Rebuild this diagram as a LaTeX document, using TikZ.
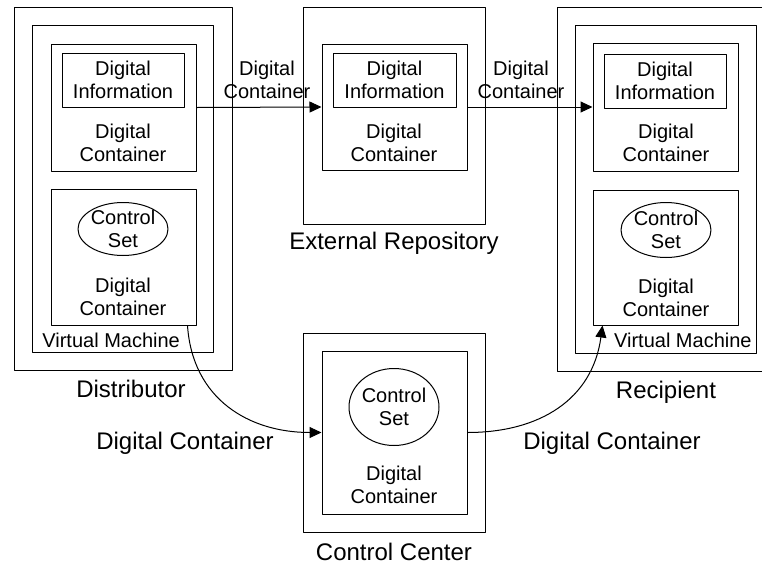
\documentclass[tikz,border=0pt]{standalone}
\usepackage{fontspec}
\setmainfont{Liberation Sans}
\usetikzlibrary{arrows.meta,fit,shapes.geometric}
\begin{document}
\begin{tikzpicture}[x=0.5pt,y=-0.5pt, line join=round, line cap=round,
		box/.style={draw, line width=0.5pt, inner sep=0pt},
		oval/.style={draw, ellipse, line width=0.5pt, inner sep=0pt, minimum width=45pt, minimum height=26.5pt},
		txt/.style={align=center, inner sep=0pt, font=\fontsize{10}{11.5}\selectfont},
		big/.style={inner sep=0pt, font=\fontsize{12}{14}\selectfont},
		link/.style={line width=0.5pt, -{Triangle[length=6pt,width=5.5pt]}}]
	\useasboundingbox (0,0) rectangle (762,563);
	\clip (0,0) rectangle (762,563);
	% Distributor
	\node[box, fit={(14,7) (232,370)}] (dist) {};
	\node[box, fit={(32,25) (213,352)}] (dvm) {};
	\node[box, fit={(51,44) (196,171)}] (dd1) {};
	\node[box, fit={(62,53) (184,107)}] (ddi) {};
	\node[box, fit={(51,189) (196,325)}] (dd2) {};
	\node[oval] (dcs) at (123,229) {};
	\node[txt] at (ddi) {Digital\\Information};
	\node[txt] at (123,143) {Digital\\Container};
	\node[txt] at (dcs) {Control\\Set};
	\node[txt] at (123,297) {Digital\\Container};
	\node[txt, anchor=west] at (42,340) {Virtual Machine};
	\node[big] at (131,389) {Distributor};
	% External Repository
	\node[box, fit={(303,7) (485,224)}] (ext) {};
	\node[box, fit={(322,44) (467,170)}] (ei) {};
	\node[box, fit={(333,53) (456,107)}] (edi) {};
	\node[txt] at (edi) {Digital\\Information};
	\node[txt] at (394,143) {Digital\\Container};
	\node[big] at (394,243) {External Repository};
	% Recipient
	\node[box, fit={(557,7) (775,371)}] (rec) {};
	\node[box, fit={(575,25) (756,353)}] (rvm) {};
	\node[box, fit={(593,43) (738,171)}] (rd1) {};
	\node[box, fit={(604,54) (726,108)}] (rdi) {};
	\node[box, fit={(593,190) (738,325)}] (rd2) {};
	\node[oval, minimum height=27.5pt] (rcs) at (666,230) {};
	\node[txt] at (rdi) {Digital\\Information};
	\node[txt] at (666,143) {Digital\\Container};
	\node[txt] at (rcs) {Control\\Set};
	\node[txt] at (666,298) {Digital\\Container};
	\node[txt, anchor=east] at (752,340) {Virtual Machine};
	\node[big] at (666,392) {Recipient};
	% Control Center
	\node[box, fit={(303,333) (485,532)}] (cc) {};
	\node[box, fit={(322,351) (467,514)}] (ci) {};
	\node[oval, minimum height=38.5pt] (ccs) at (394,407) {};
	\node[txt] at (ccs) {Control\\Set};
	\node[txt] at (394,485) {Digital\\Container};
	\node[big] at (394,552) {Control Center};
	% transfers
	\draw[link] (dd1.east) -- (ei.west);
	\draw[link] (ei.east) -- (rd1.west);
	\node[txt] (l1) at (267,80) {Digital\\Container};
	\node[txt] (l2) at (521,80) {Digital\\Container};
	\draw[link] ([xshift=-4.5pt]dd2.south east) .. controls +(5,74) and +(-72,0) .. (ci.west);
	\draw[link] (ci.east) .. controls +(72,0) and +(-10,74) .. ([xshift=5pt]rd2.south west);
	\node[big] (l3) at (185,443) {Digital Container};
	\node[big] (l4) at (612,443) {Digital Container};
\end{tikzpicture}
\end{document}
